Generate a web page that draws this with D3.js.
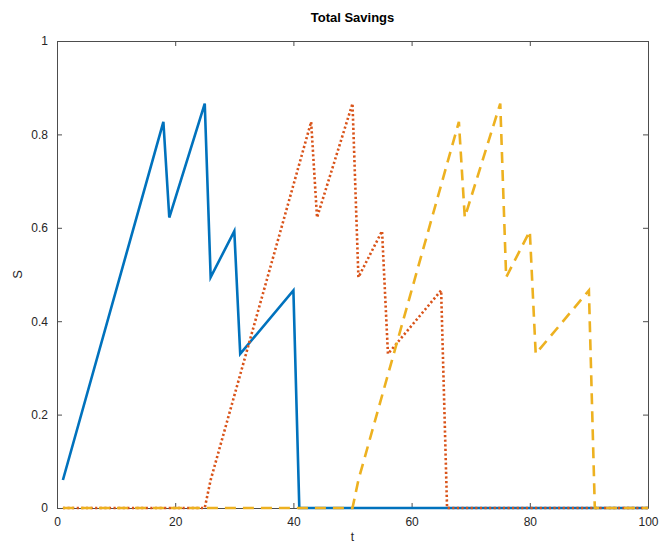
<!DOCTYPE html>
<html>
<head>
<meta charset="utf-8">
<script src="https://cdn.jsdelivr.net/npm/d3@7"></script>
<style>
  html, body { margin: 0; padding: 0; background: #fff; }
  svg { display: block; font-family: "Liberation Sans", Arial, sans-serif; }
</style>
</head>
<body>
<svg id="chart" width="661" height="544"></svg>
<script>
// Savings of three cohorts over time (breakpoints of each piecewise-linear path)
const cohort1T = [1, 18, 19, 25, 26, 30, 31, 40, 41, 100];
const cohort1S = [0.06, 0.827, 0.622, 0.866, 0.494, 0.593, 0.33, 0.466, 0, 0];

const cohort2T = [1, 25, 26, 43, 44, 50, 51, 55, 56, 65, 66, 100];
const cohort2S = [0, 0, 0.06, 0.827, 0.622, 0.866, 0.494, 0.593, 0.33, 0.466, 0, 0];

const cohort3T = [1, 50, 51, 68, 69, 75, 76, 80, 81, 90, 91, 100];
const cohort3S = [0, 0, 0.06, 0.827, 0.622, 0.866, 0.494, 0.593, 0.33, 0.466, 0, 0];

const xTicks = [0, 20, 40, 60, 80, 100];
const yTicks = [0, 0.2, 0.4, 0.6, 0.8, 1];

const svg = d3.select("#chart");
const plot = { left: 57, right: 648, top: 41, bottom: 508 };

const x = d3.scaleLinear().domain([0, 100]).range([plot.left, plot.right]);
const y = d3.scaleLinear().domain([0, 1]).range([plot.bottom, plot.top]);

const axisColor = "#4d4d4d";
const textColor = "#262626";
const tickLen = 5;

// Axes with inward ticks on all four sides
function styleAxis(g) {
  g.select(".domain").attr("stroke", axisColor).attr("stroke-width", 1);
  g.selectAll(".tick line").attr("stroke", axisColor).attr("stroke-width", 1);
  g.selectAll(".tick text").attr("fill", textColor).attr("font-size", 12);
}

svg.append("g")
  .attr("transform", `translate(0,${plot.bottom})`)
  .call(d3.axisBottom(x).tickValues(xTicks).tickFormat(d3.format("d"))
    .tickSizeInner(-tickLen).tickSizeOuter(0).tickPadding(9))
  .call(styleAxis);

svg.append("g")
  .attr("transform", `translate(0,${plot.top})`)
  .call(d3.axisTop(x).tickValues(xTicks).tickFormat("")
    .tickSizeInner(-tickLen).tickSizeOuter(0))
  .call(styleAxis);

svg.append("g")
  .attr("transform", `translate(${plot.left},0)`)
  .call(d3.axisLeft(y).tickValues(yTicks).tickFormat(d => d3.format("")(+d.toFixed(1)))
    .tickSizeInner(-tickLen).tickSizeOuter(0).tickPadding(9))
  .call(styleAxis);

svg.append("g")
  .attr("transform", `translate(${plot.right},0)`)
  .call(d3.axisRight(y).tickValues(yTicks).tickFormat("")
    .tickSizeInner(-tickLen).tickSizeOuter(0))
  .call(styleAxis);

// Series
const line = d3.line().x(d => x(d[0])).y(d => y(d[1]));
const series = [
  { t: cohort1T, s: cohort1S, color: "#0072BD", dash: null },
  { t: cohort2T, s: cohort2S, color: "#D95319", dash: "2.2,2.4" },
  { t: cohort3T, s: cohort3S, color: "#EDB120", dash: "11,7" }
];

series.forEach(sr => {
  svg.append("path")
    .datum(sr.t.map((t, i) => [t, sr.s[i]]))
    .attr("d", line)
    .attr("fill", "none")
    .attr("stroke", sr.color)
    .attr("stroke-width", 2.6)
    .attr("stroke-linejoin", "miter")
    .attr("stroke-linecap", "butt")
    .attr("stroke-dasharray", sr.dash);
});

// Title and axis labels
svg.append("text")
  .attr("x", (plot.left + plot.right) / 2).attr("y", 22)
  .attr("text-anchor", "middle").attr("font-size", 13).attr("font-weight", "bold")
  .attr("fill", "#000").text("Total Savings");

svg.append("text")
  .attr("x", (plot.left + plot.right) / 2).attr("y", 541)
  .attr("text-anchor", "middle").attr("font-size", 12)
  .attr("fill", textColor).text("t");

svg.append("text")
  .attr("transform", `translate(22,${(plot.top + plot.bottom) / 2}) rotate(-90)`)
  .attr("text-anchor", "middle").attr("font-size", 13)
  .attr("fill", textColor).text("S");
</script>
</body>
</html>
